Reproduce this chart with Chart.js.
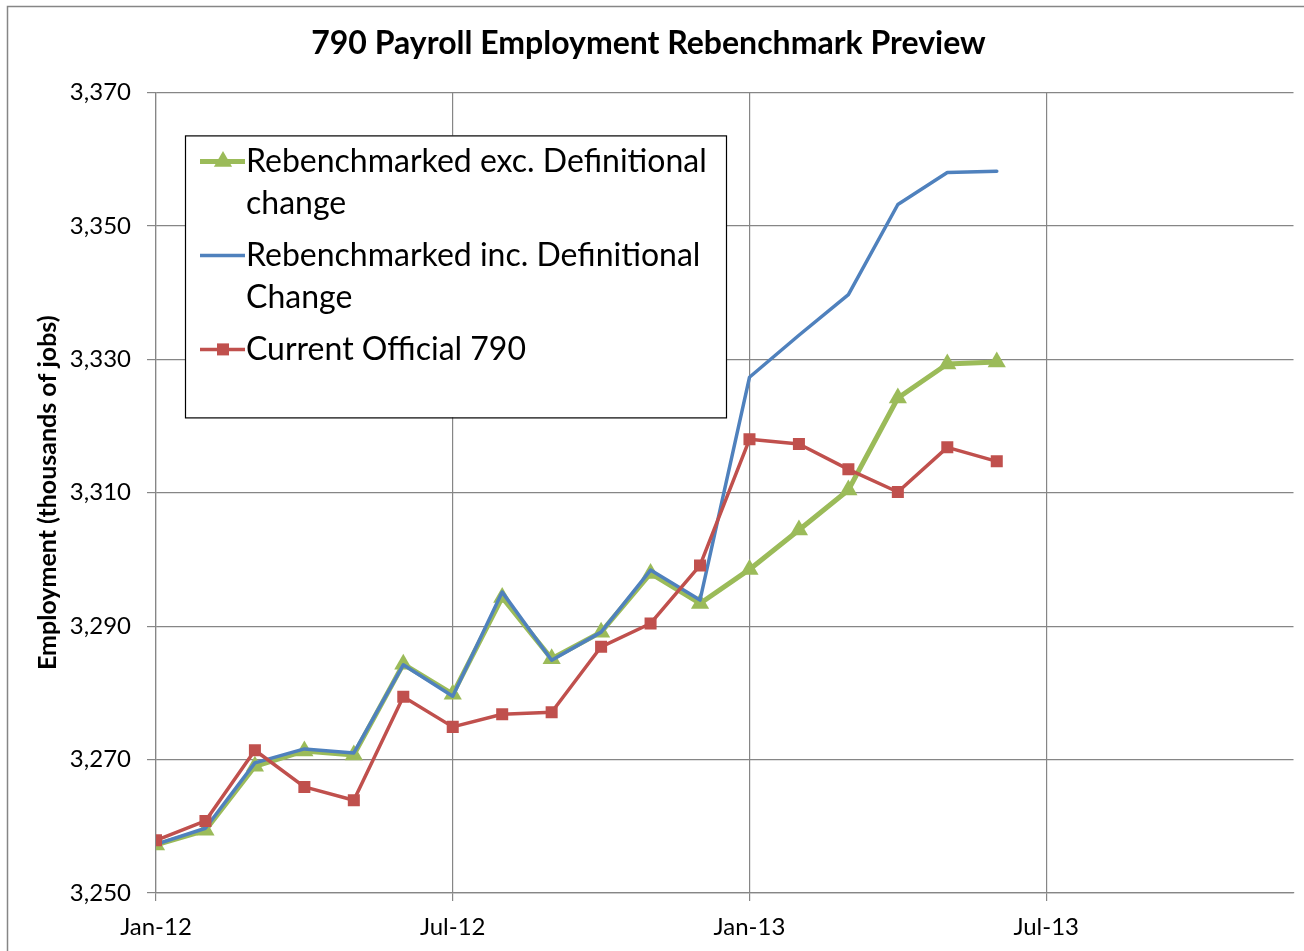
<!DOCTYPE html>
<html>
<head>
<meta charset="utf-8">
<script src="https://cdn.jsdelivr.net/npm/chart.js@4.4.1/dist/chart.umd.min.js"></script>
<style>
  html, body { margin: 0; padding: 0; background: #fff; }
  #wrap { width: 1304px; height: 951px; }
</style>
</head>
<body>
<div id="wrap"><canvas id="Chart1" width="1304" height="951"></canvas></div>
<script>
// months counted from Jan-12 (0) onwards
const months = [0, 1, 2, 3, 4, 5, 6, 7, 8, 9, 10, 11, 12, 13, 14, 15, 16, 17];
const tickPositions = [0, 6, 12, 18];
const tickLabels = ["Jan-12", "Jul-12", "Jan-13", "Jul-13"];
const seriesNames = [
  "Rebenchmarked exc. Definitional change",
  "Rebenchmarked inc. Definitional Change",
  "Current Official 790"
];
const excDefinitional = [3257.2, 3259.4, 3269.0, 3271.3, 3270.7, 3284.3, 3279.8, 3294.3, 3285.1,
  3289.1, 3297.9, 3293.4, 3298.5, 3304.4, 3310.4, 3324.2, 3329.3, 3329.6];
const incDefinitional = [3257.3, 3259.7, 3269.5, 3271.6, 3271.0, 3284.2, 3279.5, 3295.1, 3284.9,
  3289.1, 3298.4, 3293.9, 3327.3, 3333.6, 3339.7, 3353.2, 3358.0, 3358.2];
const currentOfficial = [3257.9, 3260.8, 3271.4, 3265.9, 3263.9, 3279.4, 3274.9, 3276.8, 3277.1,
  3286.9, 3290.4, 3299.1, 3318.0, 3317.3, 3313.5, 3310.1, 3316.8, 3314.7];

const FONT = "Lato, 'Open Sans', sans-serif";
const GRID = '#868686';

function pts(vals) {
  return months.map(function (m, i) { return { x: m, y: vals[i] }; });
}

// outer frame of the chart
const framePlugin = {
  id: 'frame',
  beforeDraw: function (chart) {
    const ctx = chart.ctx;
    ctx.save();
    ctx.fillStyle = '#fff';
    ctx.fillRect(0, 0, chart.width, chart.height);
    ctx.strokeStyle = GRID;
    ctx.lineWidth = 1.5;
    ctx.strokeRect(7.5, 6.5, chart.width + 20, chart.height + 20);
    ctx.restore();
  }
};

// boxed legend with wrapped labels, drawn inside the plot area
const boxLegend = {
  id: 'boxLegend',
  afterDraw: function (chart) {
    const ctx = chart.ctx;
    const a = chart.chartArea;
    const x0 = a.left + 29, y0 = a.top + 43, w = 541, h = 282;
    ctx.save();
    ctx.fillStyle = '#fff';
    ctx.fillRect(x0, y0, w, h);
    ctx.strokeStyle = '#000';
    ctx.lineWidth = 1.2;
    ctx.strokeRect(x0 + 0.5, y0 + 0.5, w, h);
    ctx.font = '32px ' + FONT;
    ctx.textBaseline = 'middle';
    ctx.fillStyle = '#000';
    const lineH = 42;
    const maxW = 485;
    let y = y0 + 26;
    chart.data.datasets.forEach(function (ds) {
      // wrap label
      const words = ds.label.split(' ');
      const lines = [];
      let cur = '';
      words.forEach(function (wd) {
        const t = cur ? cur + ' ' + wd : wd;
        if (ctx.measureText(t).width > maxW && cur) { lines.push(cur); cur = wd; } else { cur = t; }
      });
      lines.push(cur);
      // sample line
      ctx.strokeStyle = ds.borderColor;
      ctx.lineWidth = ds.borderWidth;
      ctx.beginPath();
      ctx.moveTo(x0 + 15, y);
      ctx.lineTo(x0 + 60, y);
      ctx.stroke();
      if (ds.pointStyle === 'triangle' || ds.pointStyle === 'rect') {
        ctx.fillStyle = ds.pointBackgroundColor;
        Chart.helpers.drawPoint(ctx, {
          pointStyle: ds.pointStyle, radius: ds.pointRadius, borderWidth: 0
        }, x0 + 38, y);
      }
      ctx.fillStyle = '#000';
      lines.forEach(function (ln, k) {
        ctx.fillText(ln, x0 + 61, y + k * lineH);
      });
      y += lines.length * lineH + 10;
    });
    ctx.restore();
  }
};

const config1 = {
  type: 'line',
  data: {
    datasets: [{
      label: seriesNames[0],
      data: pts(excDefinitional),
      borderColor: '#9BBB59',
      backgroundColor: '#9BBB59',
      pointBackgroundColor: '#9BBB59',
      pointBorderColor: '#9BBB59',
      borderWidth: 5,
      pointStyle: 'triangle',
      pointRadius: 10.5,
      pointBorderWidth: 0,
      order: 3
    }, {
      label: seriesNames[1],
      data: pts(incDefinitional),
      borderColor: '#4F81BD',
      backgroundColor: '#4F81BD',
      borderWidth: 3.5,
      pointStyle: false,
      pointRadius: 0,
      order: 2
    }, {
      label: seriesNames[2],
      data: pts(currentOfficial),
      borderColor: '#C0504D',
      backgroundColor: '#C0504D',
      pointBackgroundColor: '#C0504D',
      pointBorderColor: '#C0504D',
      borderWidth: 3.5,
      pointStyle: 'rect',
      pointRadius: 8.5,
      pointBorderWidth: 0,
      order: 1
    }]
  },
  options: {
    responsive: false,
    animation: false,
    layout: { padding: { left: 0, right: 7, top: 0, bottom: 0 } },
    elements: { line: { tension: 0, borderJoinStyle: 'round', borderCapStyle: 'round' } },
    scales: {
      x: {
        type: 'linear',
        min: 0,
        max: 23,
        afterBuildTicks: function (s) {
          s.ticks = tickPositions.map(function (v) { return { value: v }; });
        },
        afterFit: function (s) { s.height = 58; },
        grid: { color: GRID, lineWidth: 1.2, tickLength: 8 },
        border: { color: GRID, width: 1.2 },
        ticks: {
          color: '#000',
          font: { family: FONT, size: 24 },
          padding: 12,
          maxRotation: 0,
          callback: function (v) {
            const i = tickPositions.indexOf(v);
            return i >= 0 ? tickLabels[i] : '';
          }
        }
      },
      y: {
        min: 3250,
        max: 3370,
        afterFit: function (s) { s.width = 156; },
        grid: { color: GRID, lineWidth: 1.2, tickLength: 9 },
        border: { color: GRID, width: 1.2 },
        ticks: {
          stepSize: 20,
          color: '#000',
          font: { family: FONT, size: 24 },
          padding: 16,
          callback: function (v) { return v.toLocaleString('en-US'); }
        },
        title: {
          display: true,
          text: 'Employment (thousands of jobs)',
          color: '#000',
          font: { family: FONT, size: 25, weight: 'bold' },
          padding: { top: 33, bottom: 0 }
        }
      }
    },
    plugins: {
      title: {
        display: true,
        text: '790 Payroll Employment Rebenchmark Preview',
        color: '#000',
        font: { family: FONT, size: 32, weight: 'bold' },
        padding: { top: 24, bottom: 30 }
      },
      legend: { display: false },
      tooltip: { enabled: false }
    }
  },
  plugins: [framePlugin, boxLegend]
};

var myChart1 = new Chart(document.getElementById('Chart1'), config1);
</script>
</body>
</html>
